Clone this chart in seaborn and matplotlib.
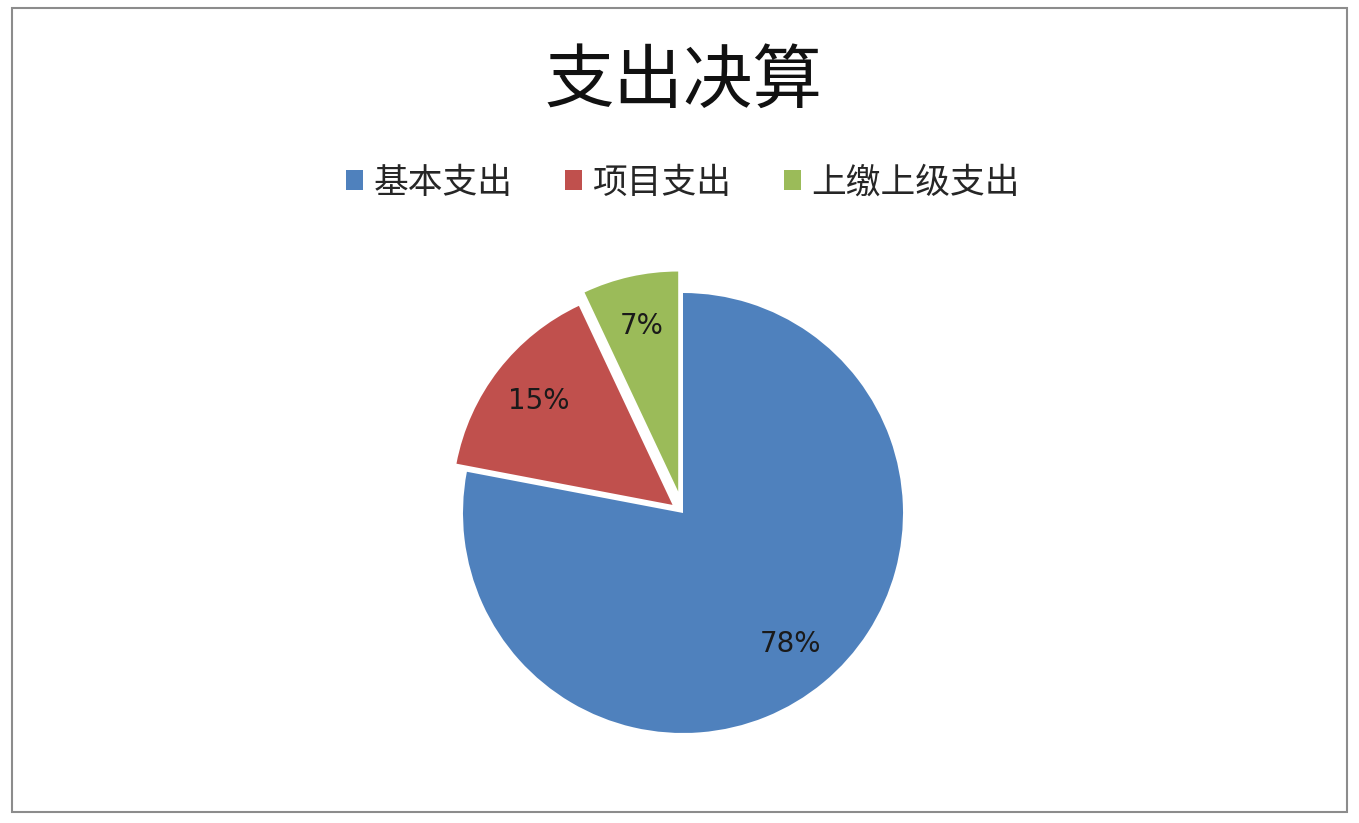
import matplotlib
matplotlib.use("Agg")
import matplotlib.pyplot as plt
import seaborn as sns
from matplotlib.patches import Rectangle

# chart data
categories = ["基本支出", "项目支出", "上缴上级支出"]
shares = [78, 15, 7]
explode = [0.0, 0.06, 0.10]
colors = ["#4F81BD", "#C0504D", "#9BBB59"]

sns.set_theme(style="white")
plt.rcParams['font.family'] = ['Noto Sans CJK SC', 'DejaVu Sans']

fig = plt.figure(figsize=(13.59, 8.23), dpi=100)

# pie axes: square in pixels, centre at (683, 513), radius 220 px
side_px = 544
cx, cy = 683, 513
ax = fig.add_axes([(cx - side_px / 2) / 1359, 1 - (cy + side_px / 2) / 823,
                   side_px / 1359, side_px / 823])
wedges, texts, autotexts = ax.pie(
    shares, explode=explode, colors=colors, startangle=90, counterclock=False,
    autopct='%d%%', pctdistance=0.77,
    wedgeprops=dict(linewidth=0),
    textprops=dict(fontsize=20, color='#1a1a1a', family=['DejaVu Sans']))
lim = (side_px / 2) / 220
ax.set_xlim(-lim, lim)
ax.set_ylim(-lim, lim)
ax.set_aspect('equal')
ax.axis('off')

fig.text(0.5026, 1 - 82 / 823, "支出决算", ha='center', va='center',
         fontsize=50, color='#111111')

fig.legend(wedges, categories, loc='center', bbox_to_anchor=(0.5026, 1 - 183 / 823),
           ncol=3, frameon=False, fontsize=25, handlelength=0.5, handleheight=0.5,
           handletextpad=0.3, columnspacing=1.5)

# outer border
fig.patches.append(Rectangle((12 / 1359, 1 - 812 / 823), 1335 / 1359, 804 / 823,
                             transform=fig.transFigure, fill=False,
                             edgecolor='#8c8c8c', linewidth=1.5))

fig.savefig("out.png", dpi=100, facecolor='white')
